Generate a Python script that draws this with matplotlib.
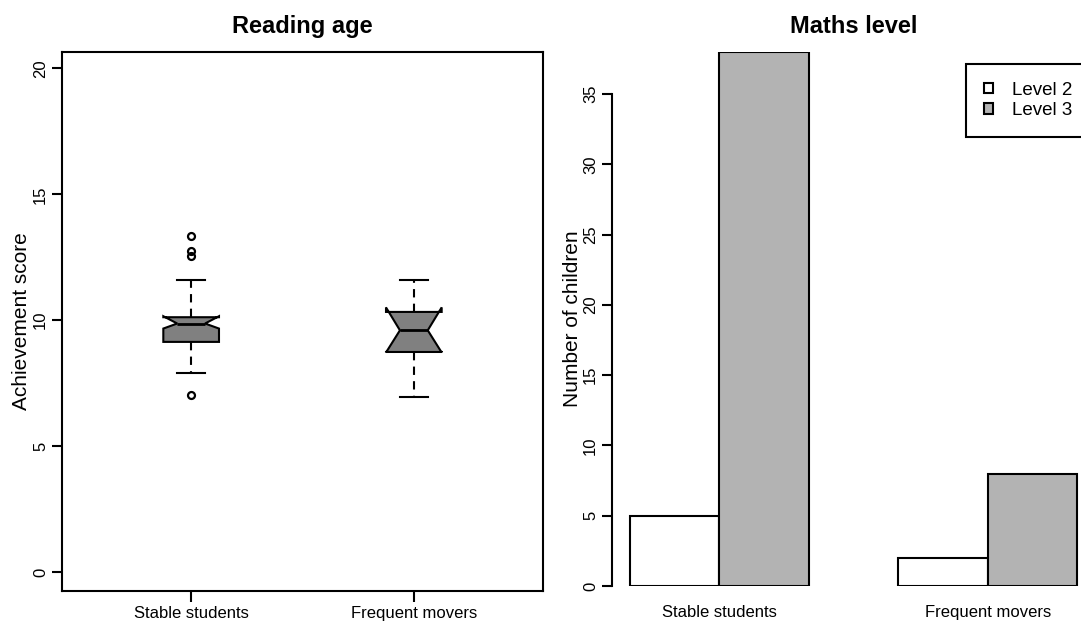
import matplotlib
matplotlib.use("Agg")
import matplotlib.pyplot as plt
from matplotlib.patches import Patch

plt.rcParams["font.family"] = ["Liberation Sans", "DejaVu Sans"]

# reading age box stats
groups = ["Stable students", "Frequent movers"]
read_q1 = [9.14, 8.74]
read_med = [9.87, 9.60]
read_q3 = [10.12, 10.33]
read_cilo = [9.67, 8.72]
read_cihi = [10.16, 10.51]
read_whislo = [7.89, 6.96]
read_whishi = [11.61, 11.61]
read_fliers = [[13.36, 12.75, 12.57, 7.02], []]

# maths level counts
levels = ["Level 2", "Level 3"]
level2 = [5, 2]
level3 = [38, 8]
level_colors = ["white", "#B3B3B3"]

W, H = 1081, 630
fig = plt.figure(figsize=(W / 100, H / 100), dpi=100)

# ---- left panel: boxplots
ax1 = fig.add_axes([62 / W, 1 - 591 / H, 481 / W, 539 / H])
stats = []
for i in range(len(groups)):
    stats.append(dict(med=read_med[i], q1=read_q1[i], q3=read_q3[i],
                      cilo=read_cilo[i], cihi=read_cihi[i],
                      whislo=read_whislo[i], whishi=read_whishi[i],
                      fliers=read_fliers[i]))
ax1.bxp(stats, positions=[1, 2], widths=0.25, capwidths=0.125,
        shownotches=True, patch_artist=True,
        boxprops=dict(facecolor="#808080", edgecolor="black", lw=1.5),
        whiskerprops=dict(color="black", lw=1.5, ls=(0, (4, 3))),
        capprops=dict(color="black", lw=1.5),
        medianprops=dict(color="black", lw=2),
        flierprops=dict(marker="o", mfc="none", mec="black", ms=5, mew=1.6))
ax1.set_xlim(0.42, 2.58)
ax1.set_ylim(-0.75, 20.65)
ax1.set_yticks([0, 5, 10, 15, 20])
ax1.set_xticks([1, 2])
ax1.set_xticklabels(groups)
for s in ax1.spines.values():
    s.set_linewidth(1.5)
ax1.tick_params(axis="y", labelrotation=90, length=7, width=1.5, pad=3, labelsize=12)
ax1.tick_params(axis="x", length=8, width=1.5, pad=3, labelsize=12)
for lab in ax1.get_yticklabels():
    lab.set_va("center")
ax1.set_ylabel("Achievement score", fontsize=15)
ax1.yaxis.set_label_coords(-0.064, 0.5)
ax1.set_title("Reading age", fontsize=17, fontweight="bold", pad=14)

# ---- right panel: grouped bars
ax2 = fig.add_axes([612 / W, 1 - 586 / H, 483 / W, 534 / H])
for j, vals in enumerate([level2, level3]):
    xs = [1 + 3 * i + j + 0.5 for i in range(len(groups))]
    ax2.bar(xs, vals, width=1, color=level_colors[j], edgecolor="black",
            lw=1.5, label=levels[j])
ax2.set_xlim(0.8, 6.2)
ax2.set_ylim(0, 38)
ax2.set_yticks(range(0, 36, 5))
ax2.set_xticks([2 + 3 * i for i in range(len(groups))])
ax2.set_xticklabels(groups)
for side in ["top", "right", "bottom"]:
    ax2.spines[side].set_visible(False)
ax2.spines["left"].set_bounds(0, 35)
ax2.spines["left"].set_linewidth(1.5)
ax2.tick_params(axis="y", labelrotation=90, length=7, width=1.5, pad=3, labelsize=12)
ax2.tick_params(axis="x", length=0, pad=14, labelsize=12)
for lab in ax2.get_yticklabels():
    lab.set_va("center")
ax2.set_ylabel("Number of children", fontsize=15)
ax2.yaxis.set_label_coords(-0.062, 0.5)
ax2.set_title("Maths level", fontsize=17, fontweight="bold", pad=14)

handles = [Patch(facecolor=c, edgecolor="black", lw=1.5) for c in level_colors]
leg = ax2.legend(handles, levels, loc="upper right", bbox_to_anchor=(0.99, 0.978),
                 borderaxespad=0, fontsize=13.5, handlelength=0.5, handleheight=0.5,
                 handletextpad=1.0, borderpad=0.95, labelspacing=0.2,
                 fancybox=False, edgecolor="black", framealpha=1)
leg.get_frame().set_linewidth(1.5)

fig.savefig("out.png", dpi=100)
